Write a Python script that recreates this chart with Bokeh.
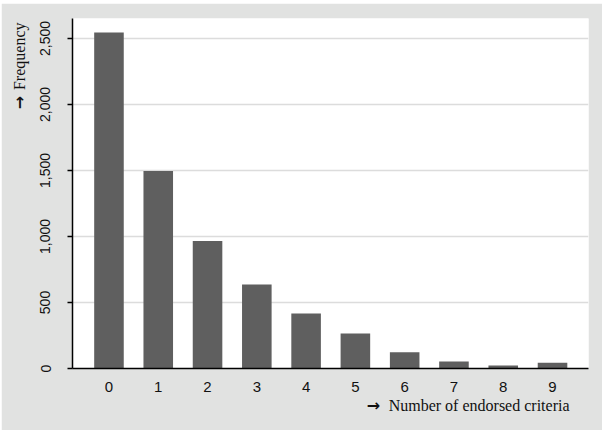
import math
from bokeh.plotting import figure
from bokeh.models import Range1d, NumeralTickFormatter, FixedTicker, Label
from bokeh.embed import file_html
from bokeh.resources import INLINE

criteria = [0, 1, 2, 3, 4, 5, 6, 7, 8, 9]
frequency = [2545, 1495, 965, 637, 417, 265, 123, 53, 23, 43]
y_ticks = [0, 500, 1000, 1500, 2000, 2500]
x_title = "Number of endorsed criteria"
y_title = "Frequency"
arrow = "\u2192"

GRAY_BG = "#e1e2e1"
TXT = "#111111"

p = figure(frame_width=516, frame_height=350, output_backend="svg", toolbar_location=None,
           x_range=Range1d(-0.74, 9.73), y_range=Range1d(0, 2651),
           min_border_left=69, min_border_right=14, min_border_top=15, min_border_bottom=60)
p.styles = {"margin-left": "1px", "margin-top": "3px"}
p.background_fill_color = "white"
p.border_fill_color = GRAY_BG
p.outline_line_color = None

p.vbar(x=criteria, top=frequency, width=0.6, color="#5f5f5f", line_color=None)

p.xgrid.grid_line_color = None
p.ygrid.grid_line_color = "#dcdcdc"
p.ygrid.grid_line_width = 1.5

xa = p.xaxis[0]
xa.ticker = FixedTicker(ticks=criteria)
xa.major_tick_line_color = None
xa.minor_tick_line_color = None
xa.axis_line_color = "black"
xa.axis_line_width = 1.5
xa.major_label_standoff = 7
xa.major_label_text_font = "Liberation Sans"
xa.major_label_text_font_size = "15px"
xa.major_label_text_color = TXT

ya = p.yaxis[0]
ya.ticker = FixedTicker(ticks=y_ticks)
ya.formatter = NumeralTickFormatter(format="0,0")
ya.major_tick_in = 0
ya.major_tick_out = 5
ya.minor_tick_line_color = None
ya.axis_line_color = "black"
ya.axis_line_width = 1.5
ya.major_tick_line_width = 1.5
ya.major_label_orientation = "vertical"
ya.major_label_standoff = 17
ya.major_label_text_font = "Liberation Sans"
ya.major_label_text_font_size = "14px"
ya.major_label_text_color = TXT

# axis titles drawn as screen-unit labels placed in the side panels
common = dict(x_units="screen", y_units="screen", text_color=TXT, text_baseline="middle")
p.add_layout(Label(x=497, y=6, text=x_title, text_align="right",
                   text_font="Liberation Serif", text_font_size="16px", **common), "below")
p.add_layout(Label(x=301, y=25, text=arrow, text_align="center", text_font_style="bold",
                   text_font="DejaVu Sans", text_font_size="16px", **common), "below")
p.add_layout(Label(x=-1, y=346, text=y_title, text_align="right", angle=math.pi / 2,
                   text_font="Liberation Serif", text_font_size="16px", **common), "left")
p.add_layout(Label(x=18, y=266, text=arrow, text_align="center", angle=math.pi / 2,
                   text_font_style="bold",
                   text_font="DejaVu Sans", text_font_size="16px", **common), "left")

open("out.html", "w").write(file_html(p, INLINE))
